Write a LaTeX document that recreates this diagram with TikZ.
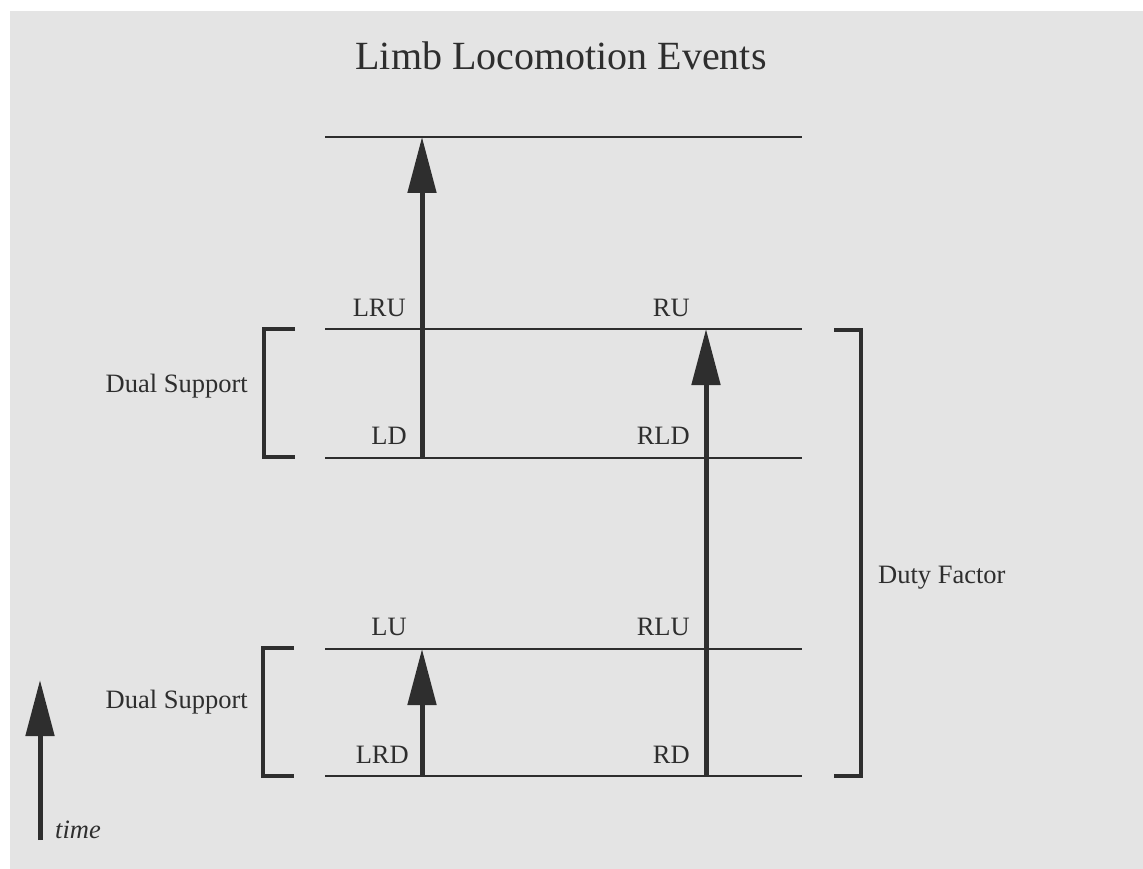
\documentclass[tikz,border=0pt]{standalone}
\usepackage{fontspec}
\setmainfont{Liberation Serif}
\usetikzlibrary{arrows.meta}
\definecolor{bg}{HTML}{E4E4E4}
\definecolor{ink}{HTML}{2E2E2E}
\tikzset{
  evline/.style={draw=ink, line width=2.4pt},
  evarrow/.style={draw=ink, fill=ink, line width=5pt, -{Triangle[length=56pt,width=28pt]}},
  bracketline/.style={draw=ink, line width=4.5pt, line join=miter},
  lbl/.style={inner sep=0pt, text=ink, font=\fontsize{26.5}{30}\selectfont},
  ttl/.style={inner sep=0pt, text=ink, font=\fontsize{40}{46}\selectfont},
}
\begin{document}
\begin{tikzpicture}[x=1pt, y=-1pt]
\useasboundingbox (0,0) rectangle (1143,869);
\fill[white] (0,0) rectangle (1143,869);
\fill[bg] (10,11) rectangle (1143,869);

% title
\node[ttl, anchor=base] (title) at (561,70) {Limb Locomotion Events};

% horizontal event lines
\foreach \n/\y in {l1/137, l2/329, l3/458, l4/649, l5/776} {
  \coordinate (\n a) at (325,\y);
  \coordinate (\n b) at (802,\y);
  \draw[evline] (\n a) -- (\n b);
}

% arrows
\coordinate (la1) at (422,458);
\coordinate (la1t) at (422,137);
\coordinate (la2) at (422,776);
\coordinate (la2t) at (422,649);
\coordinate (ra) at (706,776);
\coordinate (rat) at (706,329);
\draw[evarrow] (la1) -- (la1t);
\draw[evarrow] (la2) -- (la2t);
\draw[evarrow] (ra) -- (rat);

% labels
\node[lbl, anchor=base east] (LRU) at (406,316) {LRU};
\node[lbl, anchor=base east] (RU) at (690,316) {RU};
\node[lbl, anchor=base east] (LD) at (407,444) {LD};
\node[lbl, anchor=base east] (RLD) at (690,444) {RLD};
\node[lbl, anchor=base east] (LU) at (407,635) {LU};
\node[lbl, anchor=base east] (RLU) at (690,635) {RLU};
\node[lbl, anchor=base east] (LRD) at (409,763) {LRD};
\node[lbl, anchor=base east] (RD) at (690,763) {RD};

% brackets
\coordinate (b1a) at (295,329);
\coordinate (b1b) at (264,329);
\coordinate (b1c) at (264,457);
\coordinate (b1d) at (295,457);
\draw[bracketline] (b1a) -- (b1b) -- (b1c) -- (b1d);
\coordinate (b2a) at (294,648);
\coordinate (b2b) at (263,648);
\coordinate (b2c) at (263,776);
\coordinate (b2d) at (294,776);
\draw[bracketline] (b2a) -- (b2b) -- (b2c) -- (b2d);
\coordinate (b3a) at (834,330);
\coordinate (b3b) at (861,330);
\coordinate (b3c) at (861,776);
\coordinate (b3d) at (834,776);
\draw[bracketline] (b3a) -- (b3b) -- (b3c) -- (b3d);

\node[lbl, anchor=base east] (ds1) at (248,392) {Dual Support};
\node[lbl, anchor=base east] (ds2) at (248,708) {Dual Support};
\node[lbl, anchor=base west] (df) at (878,583) {Duty Factor};

% time arrow
\coordinate (t0) at (40,840);
\coordinate (t1) at (40,680);
\draw[evarrow] (t0) -- (t1);
\node[lbl, anchor=base west, font=\fontsize{26.5}{30}\selectfont\itshape] (time) at (55,838) {time};
\end{tikzpicture}
\end{document}
